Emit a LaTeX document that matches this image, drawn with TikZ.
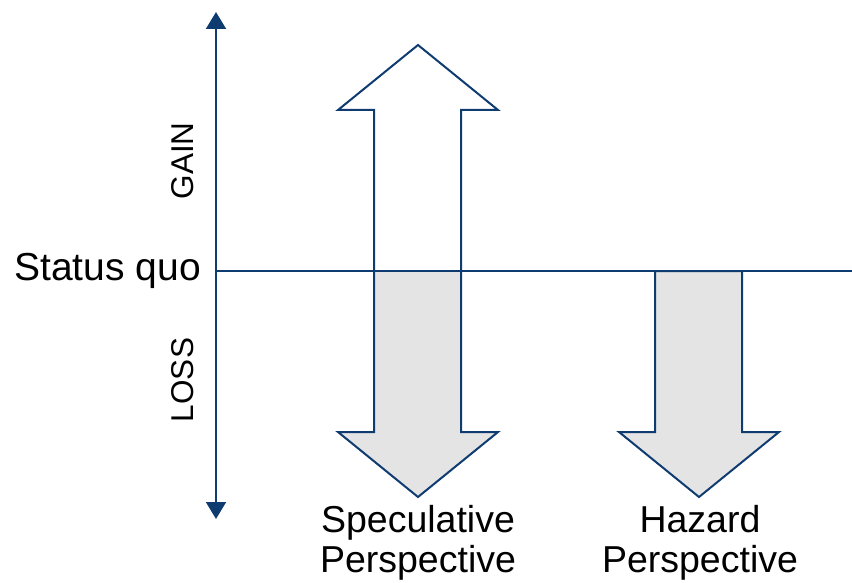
\documentclass[tikz,border=0pt]{standalone}
\usepackage{fontspec}
\setmainfont{Liberation Sans}
\usetikzlibrary{arrows.meta}
\definecolor{navy}{RGB}{14,60,112}
\definecolor{lossgray}{RGB}{228,228,228}
\tikzstyle{axis} = [line width=2pt, draw=navy, {Triangle[width=20pt,length=17pt]}-{Triangle[width=20pt,length=17pt]}]
\tikzstyle{quoline} = [line width=1.8pt, draw=navy]
\tikzstyle{blockarrow} = [line width=2pt, draw=navy, line join=miter]
\tikzstyle{lossfill} = [fill=lossgray]
\tikzstyle{biglabel} = [font=\fontsize{37.5}{40}\selectfont, inner sep=0pt, align=center]
\tikzstyle{axislabel} = [font=\fontsize{31.5}{35}\selectfont, inner sep=0pt, rotate=90]

\begin{document}
\begin{tikzpicture}[x=1pt, y=-1pt]
\useasboundingbox (0,0) rectangle (852,583);

% axis and status quo line
\coordinate (top) at (216,12);
\coordinate (bottom) at (216,519);
\coordinate (quoleft) at (216,271);
\coordinate (quoright) at (852,271);

\node (quo) [biglabel, font=\fontsize{39}{42}\selectfont, anchor=east] at (201,271) {Status quo};
\node (gain) [axislabel] at (183,161) {GAIN};
\node (loss) [axislabel] at (183,380) {LOSS};

% speculative arrow (up and down)
\fill[lossfill] (374,271) -- (461,271) -- (461,432) -- (498,432) -- (418,497) -- (338,432) -- (374,432) -- cycle;
\draw[blockarrow] (418,45) -- (498,110) -- (461,110) -- (461,432) -- (498,432) -- (418,497)
  -- (338,432) -- (374,432) -- (374,110) -- (338,110) -- cycle;

% hazard arrow (down only)
\draw[blockarrow, lossfill] (655,271) -- (742,271) -- (742,432) -- (779,432) -- (699,497)
  -- (619,432) -- (655,432) -- cycle;

\draw[quoline] (quoleft) -- (quoright);
\draw[axis] (bottom) -- (top);

\node (spec) [biglabel, anchor=north] at (418,505) {Speculative\\Perspective};
\node (haz) [biglabel, anchor=north] at (700,505) {Hazard\\Perspective};

\end{tikzpicture}
\end{document}
